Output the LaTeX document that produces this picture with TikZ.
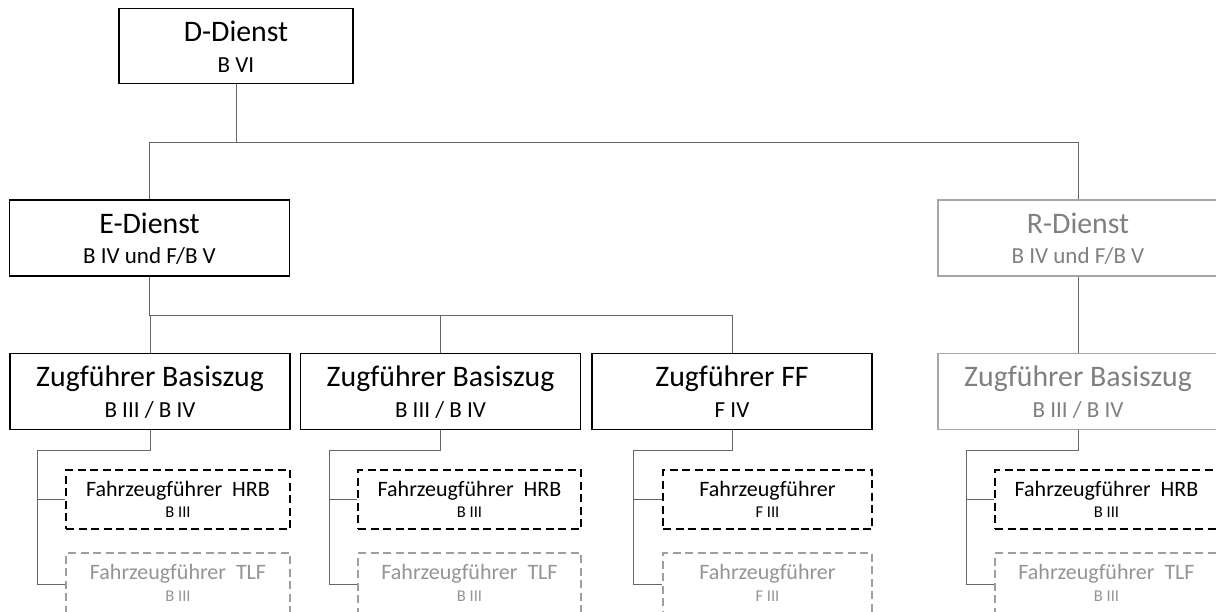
\documentclass[tikz,border=0pt]{standalone}
\usepackage{fontspec}
\setmainfont{Carlito}

\tikzset{
  box/.style={draw=black, line width=1.2pt, inner sep=0pt, minimum width=280pt, minimum height=76pt},
  greybox/.style={box, draw=black!35},
  crew/.style={draw=black, line width=2pt, dash pattern=on 8pt off 4.5pt, inner sep=0pt, minimum height=59pt},
  greycrew/.style={crew, draw=black!38, minimum height=62pt},
  titletext/.style={anchor=base, inner sep=0pt, font=\fontsize{29.8}{31}\selectfont},
  subtext/.style={anchor=base, inner sep=0pt, font=\fontsize{23}{24}\selectfont},
  crewtext/.style={anchor=base, inner sep=0pt, font=\fontsize{22}{24}\selectfont},
  crewsub/.style={anchor=base, inner sep=0pt, font=\fontsize{16.5}{18}\selectfont},
  conn/.style={draw=black!60, line width=1pt},
}

\begin{document}
\begin{tikzpicture}[x=1pt, y=-1pt]
    \useasboundingbox (0,0) rectangle (1216,612);

    % D-Dienst
    \node[box, minimum width=234pt, minimum height=75pt] (d) at (236,46) {};
    \node[titletext] (d-t) at ([yshift=-34pt]d.north) {D-Dienst};
    \node[subtext] (d-s) at ([yshift=-65pt]d.north) {B VI};

    % E- und R-Dienst
    \node[box] (e) at (149.5,238) {};
    \node[titletext] (e-t) at ([yshift=-34pt]e.north) {E-Dienst};
    \node[subtext] (e-s) at ([yshift=-64pt]e.north) {B IV und F/B V};
    \node[greybox] (r) at (1078,238) {};
    \node[titletext, black!50] (r-t) at ([yshift=-34pt]r.north) {R-Dienst};
    \node[subtext, black!50] (r-s) at ([yshift=-64pt]r.north) {B IV und F/B V};

    % Zugfuehrer
    \node[box] (z1) at (150,391.5) {};
    \node[titletext] (z1-t) at ([yshift=-34pt]z1.north) {Zugführer Basiszug};
    \node[subtext] (z1-s) at ([yshift=-65pt]z1.north) {B III / B IV};
    \node[box] (z2) at (440.5,391.5) {};
    \node[titletext] (z2-t) at ([yshift=-34pt]z2.north) {Zugführer Basiszug};
    \node[subtext] (z2-s) at ([yshift=-65pt]z2.north) {B III / B IV};
    \node[box] (z3) at (732,391.5) {};
    \node[titletext] (z3-t) at ([yshift=-34pt]z3.north) {Zugführer FF};
    \node[subtext] (z3-s) at ([yshift=-65pt]z3.north) {F IV};
    \node[greybox] (z4) at (1078,391.5) {};
    \node[titletext, black!50] (z4-t) at ([yshift=-34pt]z4.north) {Zugführer Basiszug};
    \node[subtext, black!50] (z4-s) at ([yshift=-65pt]z4.north) {B III / B IV};

    % Fahrzeugfuehrer HRB
    \node[crew, minimum width=224pt] (h1) at (178,499.5) {};
    \node[crewtext] (h1-t) at ([yshift=-27pt]h1.north) {Fahrzeugführer\ \ HRB};
    \node[crewsub] (h1-s) at ([yshift=-48pt]h1.north) {B III};
    \node[crew, minimum width=223pt] (h2) at (469.5,499.5) {};
    \node[crewtext] (h2-t) at ([yshift=-27pt]h2.north) {Fahrzeugführer\ \ HRB};
    \node[crewsub] (h2-s) at ([yshift=-48pt]h2.north) {B III};
    \node[crew, minimum width=209pt] (h3) at (767.5,499.5) {};
    \node[crewtext] (h3-t) at ([yshift=-27pt]h3.north) {Fahrzeugführer};
    \node[crewsub] (h3-s) at ([yshift=-48pt]h3.north) {F III};
    \node[crew, minimum width=223pt] (h4) at (1106.5,499.5) {};
    \node[crewtext] (h4-t) at ([yshift=-27pt]h4.north) {Fahrzeugführer\ \ HRB};
    \node[crewsub] (h4-s) at ([yshift=-48pt]h4.north) {B III};

    % Fahrzeugfuehrer TLF
    \node[greycrew, minimum width=224pt] (t1) at (178,584) {};
    \node[crewtext, black!42] (t1-t) at ([yshift=-27pt]t1.north) {Fahrzeugführer\ \ TLF};
    \node[crewsub, black!42] (t1-s) at ([yshift=-49pt]t1.north) {B III};
    \node[greycrew, minimum width=223pt] (t2) at (469.5,584) {};
    \node[crewtext, black!42] (t2-t) at ([yshift=-27pt]t2.north) {Fahrzeugführer\ \ TLF};
    \node[crewsub, black!42] (t2-s) at ([yshift=-49pt]t2.north) {B III};
    \node[greycrew, minimum width=209pt] (t3) at (767.5,584) {};
    \node[crewtext, black!42] (t3-t) at ([yshift=-27pt]t3.north) {Fahrzeugführer};
    \node[crewsub, black!42] (t3-s) at ([yshift=-49pt]t3.north) {F III};
    \node[greycrew, minimum width=223pt] (t4) at (1106.5,584) {};
    \node[crewtext, black!42] (t4-t) at ([yshift=-27pt]t4.north) {Fahrzeugführer\ \ TLF};
    \node[crewsub, black!42] (t4-s) at ([yshift=-49pt]t4.north) {B III};

    % connectors
    \coordinate (bus1) at (0,143);
    \coordinate (bus2) at (0,316);
    \draw[conn] (d.south) -- (d.south |- bus1);
    \draw[conn] (e.north) -- (e.north |- bus1) -- (r.north |- bus1) -- (r.north);
    \draw[conn] (e.south) -- (e.south |- bus2);
    \draw[conn] (z1.north) -- (z1.north |- bus2) -- (z3.north |- bus2) -- (z3.north);
    \draw[conn] (z2.north |- bus2) -- (z2.north);
    \draw[conn] (r.south) -- (z4.north);

    \coordinate (k1) at (37,450);
    \coordinate (k2) at (329,450);
    \coordinate (k3) at (633,450);
    \coordinate (k4) at (966,450);
    \draw[conn] (z1.south) |- (k1) |- (t1.west);
    \draw[conn] (k1 |- h1.west) -- (h1.west);
    \draw[conn] (z2.south) |- (k2) |- (t2.west);
    \draw[conn] (k2 |- h2.west) -- (h2.west);
    \draw[conn] (z3.south) |- (k3) |- (t3.west);
    \draw[conn] (k3 |- h3.west) -- (h3.west);
    \draw[conn] (z4.south) |- (k4) |- (t4.west);
    \draw[conn] (k4 |- h4.west) -- (h4.west);
\end{tikzpicture}
\end{document}
